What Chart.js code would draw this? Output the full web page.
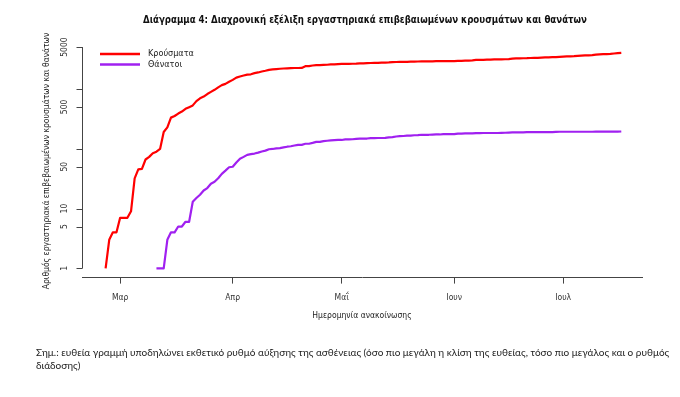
<!DOCTYPE html>
<html lang="el">
<head>
<meta charset="utf-8">
<script src="https://cdn.jsdelivr.net/npm/chart.js@4"></script>
<style>
  html, body { margin: 0; padding: 0; background: #fff; }
  #wrap { position: relative; width: 680px; height: 397px; }
  #note {
    position: absolute; left: 36px; top: 346px; width: 644px;
    font-family: Lato, "Open Sans", sans-serif; font-size: 10px; line-height: 13px; color: #222;
  }
</style>
</head>
<body>
<div id="wrap">
  <canvas id="chart" width="680" height="397"></canvas>
  <div id="note">Σημ.: ευθεία γραμμή υποδηλώνει εκθετικό ρυθμό αύξησης της ασθένειας (όσο πιο μεγάλη η κλίση της ευθείας, τόσο πιο μεγάλος και ο ρυθμός<br>διάδοσης)</div>
</div>
<script>
// ημέρες μετρημένες από 1 Μαρτίου 2020
const baseDate = Date.UTC(2020, 2, 1);
const casesStart = '2020-02-26';
const deathsStart = '2020-03-11';

// αθροιστικά κρούσματα, μία τιμή ανά ημέρα από casesStart
const cases = [
  1, 3, 4, 4, 7, 7, 7, 9,
  32, 45, 46, 66, 73, 84, 89, 99, 190, 228,
  331, 352, 387, 418, 464, 495, 530,
  624, 695, 743, 821, 892, 966, 1061, 1156, 1212, 1314,
  1415, 1544, 1613, 1673, 1735, 1755, 1832, 1884, 1955, 2011,
  2081, 2114, 2145, 2170, 2192, 2207, 2224, 2235, 2235, 2245,
  2401, 2408, 2463, 2490, 2506, 2517, 2534, 2566, 2576, 2591,
  2612, 2620, 2626, 2632, 2642, 2663, 2678, 2691, 2710, 2716,
  2726, 2744, 2760, 2770, 2810, 2819, 2834, 2836, 2840, 2850,
  2853, 2873, 2876, 2878, 2882, 2892, 2903, 2906, 2909, 2915, 2917,
  2918, 2937, 2952, 2967, 2980, 2997, 3049, 3058, 3068, 3083,
  3088, 3108, 3112, 3121, 3134, 3148, 3203, 3227, 3237, 3256,
  3266, 3287, 3302, 3310, 3343, 3366, 3376, 3390, 3409, 3432,
  3458, 3486, 3511, 3519, 3562, 3589, 3622, 3626, 3672, 3732,
  3772, 3803, 3826, 3852, 3910, 3964, 4007
];

// αθροιστικοί θάνατοι, μία τιμή ανά ημέρα από deathsStart
const deaths = [
  1, 1, 1, 3, 4, 4, 5, 5, 6, 6,
  13, 15, 17, 20, 22, 26, 28, 32, 38, 43, 49,
  50, 59, 68, 73, 79, 81, 83, 86, 90, 93,
  98, 99, 101, 102, 105, 108, 110, 113, 116, 116,
  121, 121, 125, 130, 130, 134, 136, 138, 139, 140,
  140, 143, 143, 144, 146, 147, 147, 148, 150, 150,
  151, 151, 152, 155, 156, 160, 162, 163, 165, 166,
  168, 169, 171, 171, 171, 172, 173, 173, 175, 175, 175,
  175, 179, 179, 180, 180, 180, 182, 182, 183, 183,
  183, 183, 183, 184, 185, 186, 187, 188, 188, 188,
  189, 190, 190, 190, 190, 190, 190, 190, 191, 192,
  192, 192, 192, 192, 192, 192, 192, 192, 192, 193,
  193, 193, 193, 193, 193, 193, 194
];

const monthDays = [0, 31, 61, 92, 122];
const monthLabels = ['Μαρ', 'Απρ', 'Μαΐ', 'Ιουν', 'Ιουλ'];
const yTicks = [1, 5, 10, 50, 100, 500, 1000, 5000];
const yTickLabels = ['1', '5', '10', '50', '', '500', '', '5000'];

const seriesNames = ['Κρούσματα', 'Θάνατοι'];
const seriesColors = ['#ff0000', '#a020f0'];

const narrow = '"Liberation Sans Narrow", "DejaVu Sans Condensed", sans-serif';

function dayIndex(iso) {
  return Math.round((Date.parse(iso) - baseDate) / 86400000);
}
function toPoints(values, start) {
  const d0 = dayIndex(start);
  return values.map((v, i) => ({ x: d0 + i, y: v }));
}

// τίτλος, υπόμνημα, ετικέτες και γραμμή του άξονα y
const extras = {
  id: 'extras',
  afterDraw(chart) {
    const c = chart.ctx;
    const y = chart.scales.y;
    c.save();
    c.fillStyle = '#111';
    c.font = 'bold 10.5px ' + narrow;
    c.textAlign = 'center';
    c.textBaseline = 'middle';
    c.fillText('Διάγραμμα 4: Διαχρονική εξέλιξη εργαστηριακά επιβεβαιωμένων κρουσμάτων και θανάτων', 365, 20, 444);

    // άξονας y μόνο από το 1 ως το 5000, με τις γραμμές των ticks
    c.strokeStyle = '#444';
    c.lineWidth = 1;
    const x0 = Math.round(chart.chartArea.left) + 0.5;
    c.beginPath();
    c.moveTo(x0, y.getPixelForValue(yTicks[0]));
    c.lineTo(x0, y.getPixelForValue(yTicks[yTicks.length - 1]));
    yTicks.forEach(v => {
      const py = Math.round(y.getPixelForValue(v)) + 0.5;
      c.moveTo(x0, py);
      c.lineTo(x0 - 6, py);
    });
    c.stroke();

    c.fillStyle = '#333';
    c.font = '8.5px ' + narrow;
    yTicks.forEach((v, i) => {
      if (!yTickLabels[i]) return;
      c.save();
      c.translate(65, y.getPixelForValue(v));
      c.rotate(-Math.PI / 2);
      c.fillText(yTickLabels[i], 0, 0);
      c.restore();
    });

    // υπόμνημα
    c.font = '9px ' + narrow;
    c.textAlign = 'left';
    chart.data.datasets.forEach((ds, i) => {
      const ly = 54 + i * 10.5;
      c.strokeStyle = ds.borderColor;
      c.lineWidth = 2.5;
      c.beginPath();
      c.moveTo(100, ly);
      c.lineTo(140, ly);
      c.stroke();
      c.fillStyle = '#222';
      c.fillText(ds.label, 148, ly);
    });
    c.restore();
  }
};

new Chart(document.getElementById('chart'), {
  type: 'line',
  data: {
    datasets: [
      { label: seriesNames[0], data: toPoints(cases, casesStart), borderColor: seriesColors[0] },
      { label: seriesNames[1], data: toPoints(deaths, deathsStart), borderColor: seriesColors[1] }
    ]
  },
  options: {
    responsive: false,
    animation: false,
    layout: { padding: { top: 44.4, right: 38, bottom: 71.4, left: 0 } },
    elements: {
      line: { borderWidth: 2.2, tension: 0, borderJoinStyle: 'round' },
      point: { radius: 0 }
    },
    plugins: { legend: { display: false }, title: { display: false }, tooltip: { enabled: false } },
    scales: {
      x: {
        type: 'linear',
        min: -10.5,
        max: 143.7,
        afterBuildTicks: s => { s.ticks = monthDays.map(v => ({ value: v })); },
        afterFit: s => { s.height = 48; },
        ticks: {
          autoSkip: false,
          maxRotation: 0,
          padding: 9,
          color: '#333',
          font: { family: narrow, size: 8.5 },
          callback: v => monthLabels[monthDays.indexOf(v)]
        },
        grid: { drawOnChartArea: false, drawTicks: true, tickLength: 6, color: '#444' },
        border: { display: true, color: '#444', width: 1 },
        title: {
          display: true,
          text: 'Ημερομηνία ανακοίνωσης',
          color: '#222',
          font: { family: narrow, size: 8.5 },
          padding: { top: 0, bottom: 5 }
        }
      },
      y: {
        type: 'logarithmic',
        min: 0.718,
        max: 5546,
        afterBuildTicks: s => { s.ticks = yTicks.map(v => ({ value: v })); },
        afterFit: s => { s.width = 82; },
        ticks: { display: false },
        grid: { display: false },
        border: { display: false },
        title: {
          display: true,
          text: 'Αριθμός εργαστηριακά επιβεβαιωμένων κρουσμάτων και θανάτων',
          color: '#222',
          font: { family: narrow, size: 8.5 },
          padding: { top: 42, bottom: 0 }
        }
      }
    }
  },
  plugins: [extras]
});
</script>
</body>
</html>
